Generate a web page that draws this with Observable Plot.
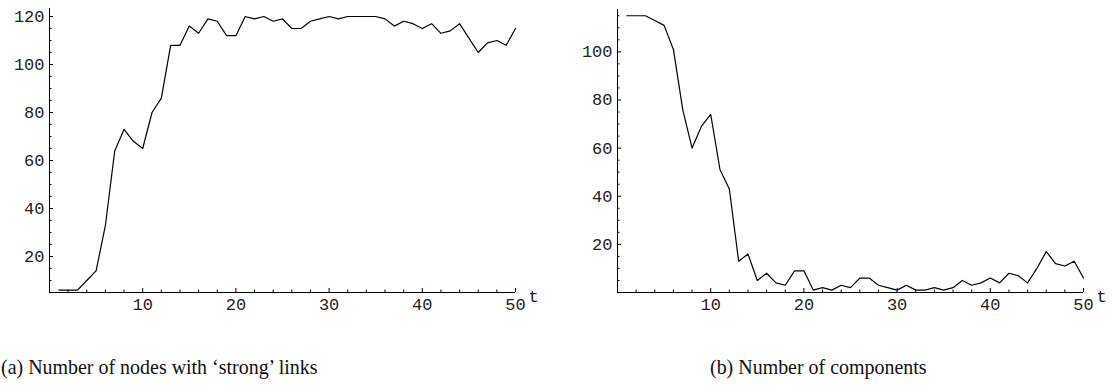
<!DOCTYPE html>
<html>
<head>
<meta charset="utf-8">
<script src="https://cdn.jsdelivr.net/npm/d3@7"></script>
<script src="https://cdn.jsdelivr.net/npm/@observablehq/plot@0.6"></script>
<style>
  html, body { margin: 0; padding: 0; background: #fff; }
  #wrap { position: relative; width: 1118px; height: 392px; overflow: hidden; }
  .panel { position: absolute; top: 0; }
  .cap { position: absolute; top: 355px; font-family: "Liberation Serif", serif; font-size: 21px; color: #111; white-space: nowrap; transform-origin: 0 0; transform: scaleX(0.95); }
</style>
</head>
<body>
<div id="wrap"></div>
<script>
// ---- data ----
const t = [1,2,3,4,5,6,7,8,9,10,11,12,13,14,15,16,17,18,19,20,21,22,23,24,25,26,27,28,29,30,31,32,33,34,35,36,37,38,39,40,41,42,43,44,45,46,47,48,49,50];
const strongNodes = [6,6,6,10,14,33,64,73,68,65, 80,86,108,108,116,113,119,118,112,112, 120,119,120,118,119,115,115,118,119,120, 119,120,120,120,120,119,116,118,117,115, 117,113,114,117,111,105,109,110,108,115];
const components = [115,115,115,113,111,101,76,60,69,74, 51,43,13,16,5,8,4,3,9,9, 1,2,1,3,2,6,6,3,2,1, 3,1,1,2,1,2,5,3,4,6, 4,8,7,4,10,17,12,11,13,6];

const xMajor = [10,20,30,40,50];
const xMinor = [2,4,6,8,12,14,16,18,22,24,26,28,32,34,36,38,42,44,46,48];
const yMajorA = [20,40,60,80,100,120];
const yMinorA = [5,10,15,25,30,35,45,50,55,65,70,75,85,90,95,105,110,115];
const yMajorB = [20,40,60,80,100];
const yMinorB = [5,10,15,25,30,35,45,50,55,65,70,75,85,90,95,105,110,115];
const captionA = "(a) Number of nodes with \u2018strong\u2019 links";
const captionB = "(b) Number of components";
const xLabel = "t";

function panel(values, yDomain, yMajor, yMinor, m) {
  const rows = t.map((d, i) => ({t: d, v: values[i]}));
  const x0 = 0, y0 = yDomain[0];
  return Plot.plot({
    width: 559, height: 330,
    marginLeft: m.left, marginRight: m.right, marginTop: m.top, marginBottom: 38,
    style: {fontFamily: "Liberation Mono, monospace", fontSize: "17px", color: "#222", background: "white", overflow: "visible"},
    x: {domain: [0, 50]},
    y: {domain: yDomain},
    marks: [
      Plot.axisY({ticks: yMajor, tickSize: 0, tickPadding: 5, tickFormat: d => String(d), label: null, fill: "#222", fontSize: 17}),
      Plot.axisX({ticks: xMajor, tickSize: 0, tickPadding: 5, tickFormat: d => String(d), label: null, fill: "#222", fontSize: 17}),
      Plot.ruleX([x0], {x: d => d, stroke: "black", strokeWidth: 1}),
      Plot.ruleY([y0], {y: d => d, stroke: "black", strokeWidth: 1}),
      Plot.ruleX(xMajor, {x: d => d, y1: () => y0, y2: () => y0, insetTop: -4, stroke: "black"}),
      Plot.ruleX(xMinor, {x: d => d, y1: () => y0, y2: () => y0, insetTop: -2.5, stroke: "black"}),
      Plot.ruleY(yMajor, {y: d => d, x1: () => x0, x2: () => x0, insetRight: -4, stroke: "black"}),
      Plot.ruleY(yMinor, {y: d => d, x1: () => x0, x2: () => x0, insetRight: -2.5, stroke: "black"}),
      Plot.lineY(rows, {x: "t", y: "v", stroke: "black", strokeWidth: 1.2}),
      Plot.text([xLabel], {frameAnchor: "bottom-right", text: d => d, dx: 13, dy: 9, textAnchor: "start", fill: "#222", fontSize: 17})
    ]
  });
}

const wrap = document.getElementById("wrap");
const pA = panel(strongNodes, [5, 123.33], yMajorA, yMinorA, {left: 49, right: 44, top: 8});
pA.classList.add("panel"); pA.style.left = "0px";
const pB = panel(components, [0, 117.6], yMajorB, yMinorB, {left: 58, right: 35, top: 9});
pB.classList.add("panel"); pB.style.left = "559px";
wrap.appendChild(pA); wrap.appendChild(pB);

const cA = document.createElement("div"); cA.className = "cap"; cA.textContent = captionA; cA.style.left = "1px";
const cB = document.createElement("div"); cB.className = "cap"; cB.textContent = captionB; cB.style.left = "710px";
wrap.appendChild(cA); wrap.appendChild(cB);
</script>
</body>
</html>
